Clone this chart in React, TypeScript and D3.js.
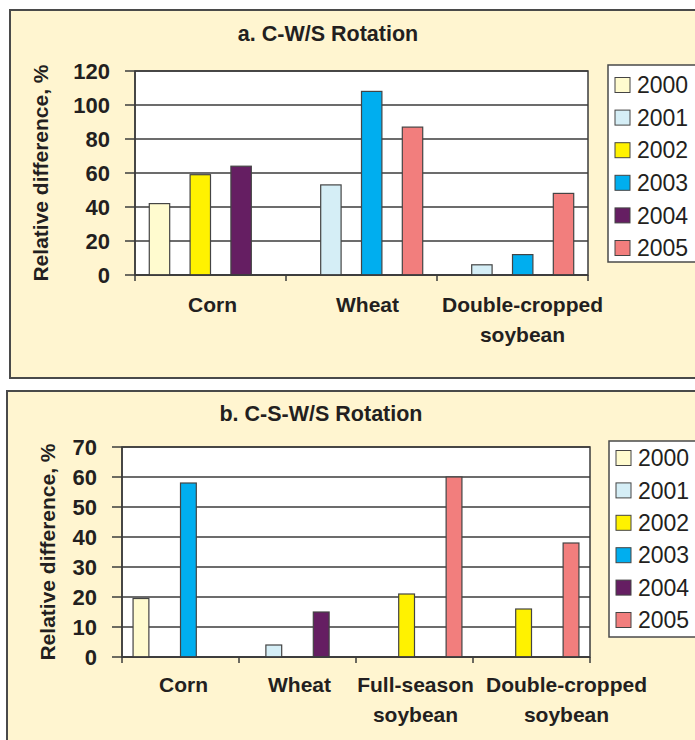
import React from 'react';
import * as d3 from 'd3';

const years = ['2000', '2001', '2002', '2003', '2004', '2005'];
const yearColors = ['#FFFBCF', '#D5EEF6', '#FFF200', '#00AEEF', '#651E62', '#F27E7D'];

// a. C-W/S rotation, one array per crop, values in year order (null = no bar)
const cwsCrops = ['Corn', 'Wheat', 'Double-cropped\nsoybean'];
const cwsCorn = [42, null, 59, null, 64, null];
const cwsWheat = [null, 53, null, 108, null, 87];
const cwsDoubleSoy = [null, 6, null, 12, null, 48];
const cwsTicks = [0, 20, 40, 60, 80, 100, 120];

// b. C-S-W/S rotation
const cswsCrops = ['Corn', 'Wheat', 'Full-season\nsoybean', 'Double-cropped\nsoybean'];
const cswsCorn = [19.5, null, null, 58, null, null];
const cswsWheat = [null, 4, null, null, 15, null];
const cswsFullSoy = [null, null, 21, null, null, 60];
const cswsDoubleSoy = [null, null, 16, null, null, 38];
const cswsTicks = [0, 10, 20, 30, 40, 50, 60, 70];

const ink = '#231f20';
const lineCol = '#3b3b3b';
const font = '"Liberation Sans", Arial, sans-serif';

type Layout = {
  box: { x: number; y: number; w: number; h: number };
  left: number; right: number; top: number; bottom: number;
  tickLabelX: number; yTitleX: number;
  titleX: number; titleY: number;
  catY: number; catDx: number[];
  legend: { x: number; y: number; w: number; h: number; row0: number; step: number };
};

const Panel = ({ title, crops, values, ticks, L }: {
  title: string; crops: string[]; values: (number | null)[][]; ticks: number[]; L: Layout;
}) => {
  const x = d3.scaleBand().domain(crops).range([L.left, L.right]);
  const inner = d3.scaleBand().domain(years).range([0, x.bandwidth()]).paddingOuter(0.7);
  const y = d3.scaleLinear().domain([0, d3.max(ticks) as number]).range([L.bottom, L.top]);
  const bounds = [...crops.map(c => x(c) as number), L.right];

  return (
    <g>
      <rect x={L.box.x} y={L.box.y} width={L.box.w} height={L.box.h} fill="#FFF5D0" stroke="#4a4a4a" strokeWidth={2} />
      <text x={L.titleX} y={L.titleY} textAnchor="middle" fontSize={21.5} fontWeight={600} fill={ink}>{title}</text>
      <rect x={L.left} y={L.top} width={L.right - L.left} height={L.bottom - L.top} fill="#fff" stroke={lineCol} strokeWidth={1.5} />
      {ticks.map(t => (
        <g key={t}>
          <line x1={L.left - 10} x2={L.right} y1={y(t)} y2={y(t)} stroke={lineCol} strokeWidth={1.5} />
          <text x={L.tickLabelX} y={y(t)} dy="0.36em" textAnchor="end" fontSize={22} fontWeight={600} fill={ink}>{t}</text>
        </g>
      ))}
      {bounds.map((b, i) => (
        <line key={i} x1={b} x2={b} y1={L.bottom} y2={L.bottom + 6} stroke={lineCol} strokeWidth={1.5} />
      ))}
      {crops.map((c, ci) =>
        values[ci].map((v, yi) => v == null ? null : (
          <rect key={c + yi} x={(x(c) as number) + (inner(years[yi]) as number)} y={y(v)}
            width={inner.bandwidth()} height={L.bottom - y(v)}
            fill={yearColors[yi]} stroke="#444" strokeWidth={1.2} />
        ))
      )}
      <line x1={L.left} x2={L.right} y1={L.bottom} y2={L.bottom} stroke={lineCol} strokeWidth={1.5} />
      <line x1={L.left} x2={L.left} y1={L.top} y2={L.bottom} stroke={lineCol} strokeWidth={1.5} />
      {crops.map((c, ci) => (
        <text key={c} x={(x(c) as number) + x.bandwidth() / 2 + L.catDx[ci]} y={L.catY} textAnchor="middle"
          fontSize={21} fontWeight={600} fill={ink}>
          {c.split('\n').map((s, k) => (
            <tspan key={k} x={(x(c) as number) + x.bandwidth() / 2 + L.catDx[ci]} dy={k === 0 ? 0 : 30}>{s}</tspan>
          ))}
        </text>
      ))}
      <text transform={`translate(${L.yTitleX},${(L.top + L.bottom) / 2}) rotate(-90)`} textAnchor="middle"
        dominantBaseline="central" fontSize={21} fontWeight={600} fill={ink}>Relative difference, %</text>
      <rect x={L.legend.x} y={L.legend.y} width={L.legend.w} height={L.legend.h} fill="#fff" stroke="#4a4a4a" strokeWidth={1.5} />
      {years.map((yr, i) => {
        const cy = L.legend.row0 + i * L.legend.step;
        return (
          <g key={yr}>
            <rect x={L.legend.x + 7} y={cy - 7.5} width={15} height={15} fill={yearColors[i]} stroke="#444" strokeWidth={1} />
            <text x={L.legend.x + 29} y={cy} dy="0.36em" fontSize={23} fill={ink}>{yr}</text>
          </g>
        );
      })}
    </g>
  );
};

const layoutA: Layout = {
  box: { x: 10, y: 10, w: 700, h: 368 },
  left: 135, right: 588, top: 71, bottom: 275,
  tickLabelX: 110, yTitleX: 40,
  titleX: 328, titleY: 41,
  catY: 312, catDx: [2, 6, 10],
  legend: { x: 608, y: 65, w: 95, h: 197, row0: 85, step: 32.6 },
};

const layoutB: Layout = {
  box: { x: 7, y: 391, w: 700, h: 360 },
  left: 122, right: 590, top: 447, bottom: 657,
  tickLabelX: 97, yTitleX: 47,
  titleX: 321, titleY: 421,
  catY: 692, catDx: [3, 2, 1, 35],
  legend: { x: 609, y: 441, w: 95, h: 196, row0: 458, step: 32.4 },
};

export default function App() {
  return (
    <svg width={695} height={740} style={{ position: 'absolute', left: 0, top: 0, fontFamily: font }}>
      <rect width={695} height={740} fill="#fff" />
      <Panel title="a. C-W/S Rotation" crops={cwsCrops} values={[cwsCorn, cwsWheat, cwsDoubleSoy]} ticks={cwsTicks} L={layoutA} />
      <Panel title="b. C-S-W/S Rotation" crops={cswsCrops} values={[cswsCorn, cswsWheat, cswsFullSoy, cswsDoubleSoy]} ticks={cswsTicks} L={layoutB} />
    </svg>
  );
}
